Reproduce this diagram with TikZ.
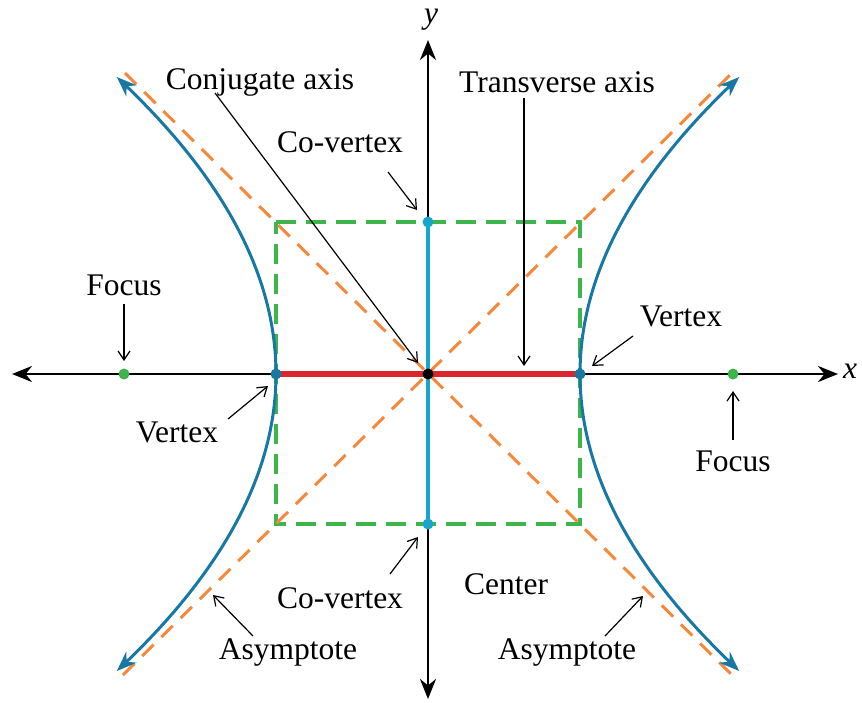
\documentclass[tikz,border=0pt]{standalone}
\usepackage{fontspec}
\setmainfont{Liberation Serif}
\usetikzlibrary{arrows.meta}
\definecolor{hypc}{HTML}{1878A4}
\definecolor{conjc}{HTML}{17A5CE}
\definecolor{asyc}{HTML}{F5883B}
\definecolor{boxc}{HTML}{3DB54A}
\definecolor{transc}{HTML}{D9262E}
\tikzset{
  lbl/.style={font=\fontsize{31.5}{34}\selectfont, inner sep=0pt},
  ptr/.style={line width=1.2pt, -{Straight Barb[length=9pt,width=12pt]}},
  axisline/.style={line width=2.8pt, {Stealth[length=20pt,width=16pt]}-{Stealth[length=20pt,width=16pt]}},
  hyp/.style={hypc, line width=3pt, {Stealth[length=20pt,width=15pt]}-{Stealth[length=20pt,width=15pt]}},
  asym/.style={asyc, line width=3pt, dash pattern=on 16pt off 11pt},
  boxline/.style={boxc, line width=3.2pt, dash pattern=on 20pt off 10pt},
  dot/.style={circle, inner sep=0pt, minimum size=11pt}
}
\begin{document}
\begin{tikzpicture}[x=1pt,y=-1pt]
\useasboundingbox (0,0) rectangle (862,702);
% named points
\coordinate (C) at (428,374);
\coordinate (xl) at (12,374);
\coordinate (xr) at (838,374);
\coordinate (yt) at (428,40);
\coordinate (yb) at (428,699);
\coordinate (b1) at (276,222);
\coordinate (b2) at (580,222);
\coordinate (b3) at (580,524);
\coordinate (b4) at (276,524);
\coordinate (a1s) at (125,73);
\coordinate (a1e) at (732,675);
\coordinate (a2s) at (123,675);
\coordinate (a2e) at (732,73);
% green box
\draw[boxline] (b1) -- (b2) -- (b3) -- (b4) -- cycle;
% asymptotes
\draw[asym] (a1s) -- (a1e);
\draw[asym] (a2s) -- (a2e);
% axes
\draw[axisline] (xl) -- (xr);
\draw[axisline] (yb) -- (yt);
% conjugate and transverse axes
\draw[conjc, line width=4pt] (428,222) -- (428,524);
\draw[transc, line width=6pt] (276,374) -- (580,374);
% hyperbola branches
\draw[hyp] plot[domain=297:-297, samples=100, variable=\t] ({276-(\t/23.537)^2}, {374+\t});
\draw[hyp] plot[domain=297:-297, samples=100, variable=\t] ({580+(\t/23.537)^2}, {374+\t});
% dots
\node[dot, fill=black] (cen) at (C) {};
\node[dot, fill=hypc] (vl) at (276,374) {};
\node[dot, fill=hypc] (vr) at (580,374) {};
\node[dot, fill=conjc] (cvt) at (428,222) {};
\node[dot, fill=conjc] (cvb) at (428,524) {};
\node[dot, fill=boxc] (fl) at (124,374) {};
\node[dot, fill=boxc] (fr) at (733,374) {};
% axis labels
\node[lbl, font=\fontsize{31.5}{34}\selectfont\itshape] (ylab) at (431,20) {y};
\node[lbl, font=\fontsize{31.5}{34}\selectfont\itshape, anchor=west] (xlab) at (843,371) {x};
% labels
\node[lbl] (lconj) at (260,82) {Conjugate axis};
\node[lbl] (ltrans) at (557,82) {Transverse axis};
\node[lbl] (lcvt) at (340,142) {Co-vertex};
\node[lbl] (lfl) at (124,285) {Focus};
\node[lbl] (lvr) at (681,316) {Vertex};
\node[lbl] (lvl) at (177,432) {Vertex};
\node[lbl] (lfr) at (733,461) {Focus};
\node[lbl] (lcvb) at (340,598) {Co-vertex};
\node[lbl] (lcen) at (506,584) {Center};
\node[lbl] (lasl) at (288,652) {Asymptote};
\node[lbl] (lasr) at (567,652) {Asymptote};
% pointer end coordinates
\coordinate (pconj) at (418,363);
\coordinate (ptrans) at (524,366);
\coordinate (pcvt) at (417,210);
\coordinate (pfl) at (124,361);
\coordinate (pvr) at (592,366);
\coordinate (pvl) at (268,386);
\coordinate (pfr) at (733,391);
\coordinate (pcvb) at (418,537);
\coordinate (pasl) at (213,595);
\coordinate (pasr) at (643,596);
% pointers
\draw[ptr] (215,93) -- (pconj);
\draw[ptr] (524,98) -- (ptrans);
\draw[ptr] (388,172) -- (pcvt);
\draw[ptr] (124,304) -- (pfl);
\draw[ptr] (633,336) -- (pvr);
\draw[ptr] (228,419) -- (pvl);
\draw[ptr] (733,440) -- (pfr);
\draw[ptr] (390,574) -- (pcvb);
\draw[ptr] (253,636) -- (pasl);
\draw[ptr] (605,636) -- (pasr);
\end{tikzpicture}
\end{document}
